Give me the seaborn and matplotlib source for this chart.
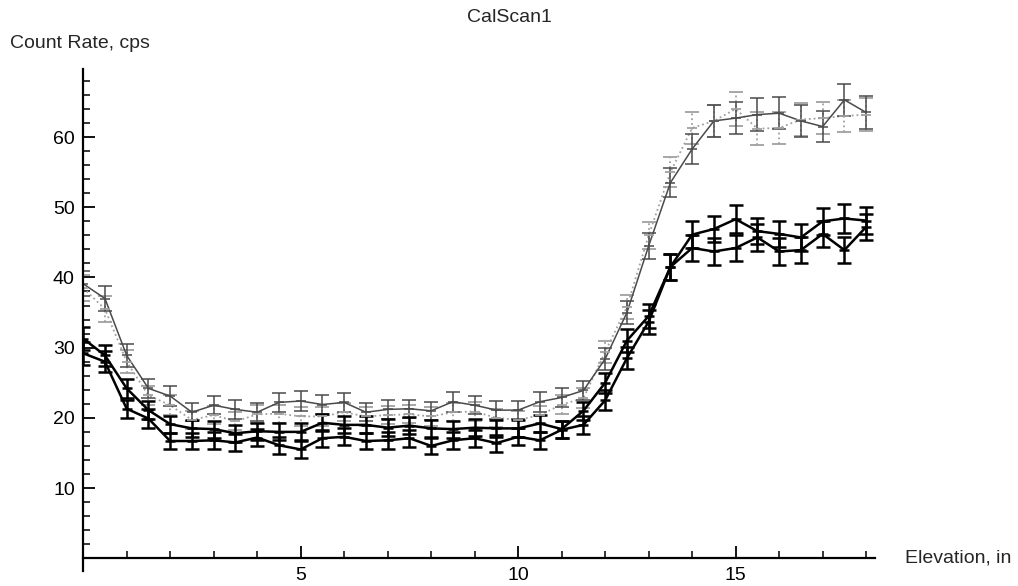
import numpy as np
import pandas as pd
import seaborn as sns
import matplotlib
matplotlib.use("Agg")
import matplotlib.pyplot as plt
from matplotlib.ticker import MultipleLocator

# elevation positions, in
elevation = [0, 0.5, 1, 1.5, 2, 2.5, 3, 3.5, 4, 4.5, 5, 5.5, 6, 6.5, 7, 7.5, 8, 8.5,
             9, 9.5, 10, 10.5, 11, 11.5, 12, 12.5, 13, 13.5, 14, 14.5, 15, 15.5,
             16, 16.5, 17, 17.5, 18]

# count rates (cps)
gray_solid = [39.1, 37.0, 28.9, 24.2, 23.1, 20.8, 21.8, 21.2, 20.8, 22.2, 22.4, 21.9,
              22.2, 20.8, 21.2, 21.3, 21.0, 22.3, 21.8, 21.1, 21.1, 22.3, 22.9, 23.9,
              28.4, 35.0, 44.5, 53.5, 58.3, 62.3, 62.7, 63.2, 63.4, 62.3, 61.5, 65.3, 63.5]
gray_dotted = [38.5, 35.5, 28.0, 23.2, 21.8, 19.7, 20.4, 19.5, 20.5, 20.6, 20.2, 20.2,
               20.8, 20.2, 20.4, 20.5, 20.2, 20.8, 20.9, 20.0, 19.7, 20.4, 21.9, 22.8,
               29.4, 35.8, 46.0, 55.0, 61.3, 62.3, 64.0, 61.2, 61.3, 62.5, 62.7, 63.0, 63.2]
black_upper = [31.3, 28.9, 24.2, 21.1, 19.1, 18.5, 18.4, 17.8, 18.1, 18.0, 18.0, 19.3,
               19.0, 19.0, 18.6, 18.9, 18.5, 18.4, 18.6, 18.5, 18.5, 19.2, 18.4, 21.0,
               25.0, 31.0, 34.5, 41.5, 46.1, 46.9, 48.3, 46.6, 46.2, 45.7, 48.0, 48.4, 48.1]
black_lower = [29.2, 28.0, 21.3, 19.9, 16.7, 16.7, 16.8, 16.5, 17.2, 16.1, 15.5, 17.1,
               17.3, 16.7, 16.8, 17.1, 16.0, 16.8, 17.1, 16.4, 17.3, 16.8, 18.3, 19.0,
               22.5, 28.5, 33.7, 41.5, 44.2, 43.7, 44.2, 45.7, 43.7, 43.9, 46.2, 43.9, 47.2]

# error bar half heights (cps)
err_gray_solid = [1.8, 1.8, 1.6, 1.4, 1.4, 1.3, 1.3, 1.3, 1.3, 1.4, 1.4, 1.3, 1.4, 1.3,
                  1.3, 1.3, 1.3, 1.4, 1.3, 1.3, 1.3, 1.4, 1.4, 1.4, 1.6, 1.7, 1.9, 2.1,
                  2.2, 2.3, 2.3, 2.3, 2.3, 2.3, 2.2, 2.3, 2.3]
err_gray_dotted = [1.8, 1.8, 1.6, 1.4, 1.4, 1.3, 1.3, 1.3, 1.3, 1.3, 1.3, 1.3, 1.3, 1.3,
                   1.3, 1.3, 1.3, 1.3, 1.3, 1.3, 1.3, 1.3, 1.4, 1.4, 1.6, 1.7, 1.9, 2.1,
                   2.3, 2.3, 2.4, 2.3, 2.3, 2.3, 2.3, 2.3, 2.3]
err_black_upper = [1.6, 1.5, 1.4, 1.3, 1.2, 1.2, 1.2, 1.2, 1.2, 1.2, 1.2, 1.2, 1.2, 1.2,
                   1.2, 1.2, 1.2, 1.2, 1.2, 1.2, 1.2, 1.2, 1.2, 1.3, 1.4, 1.6, 1.7, 1.8,
                   1.9, 1.9, 2.0, 1.9, 1.9, 1.9, 1.9, 2.0, 1.9]
err_black_lower = [1.6, 1.5, 1.3, 1.3, 1.2, 1.2, 1.2, 1.2, 1.2, 1.2, 1.2, 1.2, 1.2, 1.2,
                   1.2, 1.2, 1.2, 1.2, 1.2, 1.2, 1.2, 1.2, 1.2, 1.3, 1.4, 1.6, 1.7, 1.8,
                   1.9, 1.9, 1.9, 1.9, 1.9, 1.9, 1.9, 1.9, 1.9]

series = [
    # values, errors, color, linewidth, linestyle
    (gray_dotted, err_gray_dotted, "#a0a0a0", 1.3, ":"),
    (gray_solid, err_gray_solid, "#4a4a4a", 1.1, "-"),
    (black_lower, err_black_lower, "black", 1.8, "-"),
    (black_upper, err_black_upper, "black", 1.8, "-"),
]

sns.set_style("white")
plt.rcParams["font.family"] = ["Liberation Sans", "DejaVu Sans"]

fig = plt.figure(figsize=(10.18, 5.86), dpi=100)
ax = fig.add_axes([0.0817, 0.0258, 0.7777, 0.8565])

for vals, errs, col, lw, ls in series:
    sns.lineplot(x=elevation, y=vals, ax=ax, color=col, linewidth=lw,
                 linestyle=ls, legend=False)
    eb = ax.errorbar(elevation, vals, yerr=errs, fmt="_", color=col, ecolor=col,
                     elinewidth=lw, capsize=5, capthick=lw, markersize=7,
                     markeredgewidth=lw)
    if ls == ":":
        for c in eb[2]:
            c.set_linestyle(":")

ax.set_xlim(0, 18.2)
ax.set_ylim(-1.8, 69.7)

# Mathematica style axes through the origin
for side in ["top", "right"]:
    ax.spines[side].set_visible(False)
for side in ["left", "bottom"]:
    ax.spines[side].set_position(("data", 0))
    ax.spines[side].set_linewidth(1.6)
    ax.spines[side].set_color("black")

ax.set_xticks([5, 10, 15])
ax.set_yticks([10, 20, 30, 40, 50, 60])
ax.xaxis.set_minor_locator(MultipleLocator(1))
ax.yaxis.set_minor_locator(MultipleLocator(2))
ax.tick_params(which="major", direction="in", length=8.5, width=1.3, labelsize=14,
               pad=6, colors="black")
ax.tick_params(which="minor", direction="in", length=5, width=1.1, colors="black")
ax.tick_params(axis="x", which="both", bottom=True)
ax.tick_params(axis="y", which="both", left=True)

fig.text(0.5, 1 - 18 / 586, "CalScan1", ha="center", va="center", fontsize=14)
fig.text(10 / 1018, 1 - 44 / 586, "Count Rate, cps", ha="left", va="center",
         fontsize=14)
fig.text(905 / 1018, 1 - 558 / 586, "Elevation, in", ha="left", va="center",
         fontsize=14)

fig.savefig("out.png", dpi=100)
